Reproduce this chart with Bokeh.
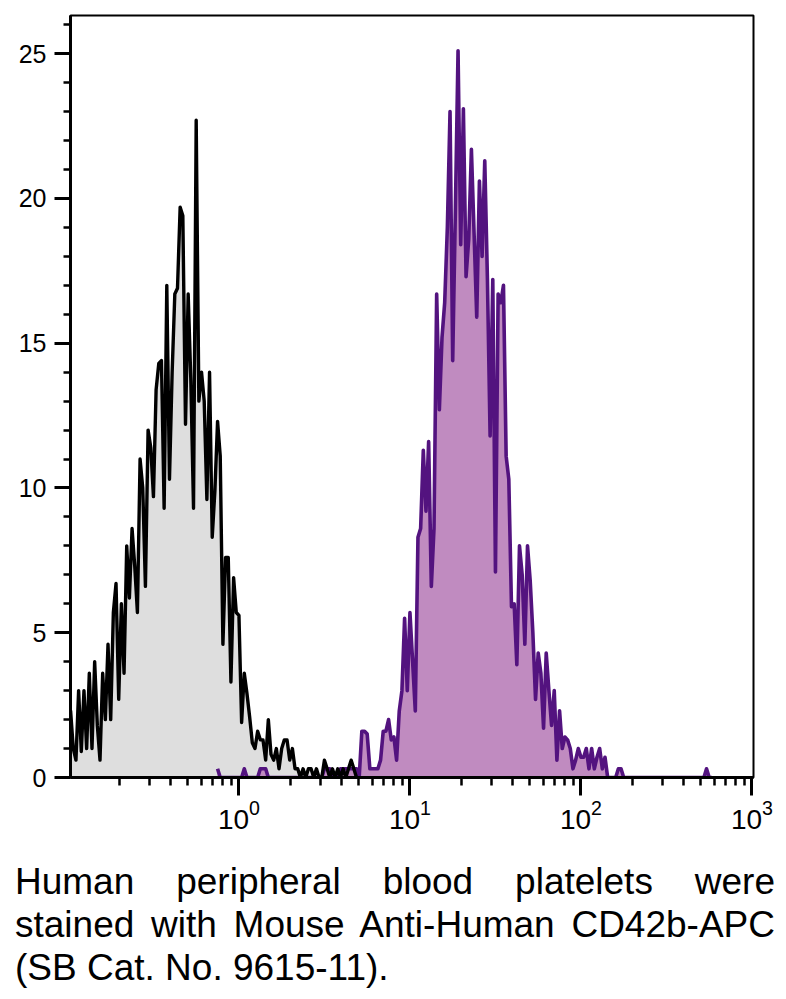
from bokeh.plotting import figure
from bokeh.models import Range1d, FixedTicker, Div, LogTickFormatter
from bokeh.layouts import column
from bokeh.embed import file_html
from bokeh.resources import INLINE

# ---- data -------------------------------------------------------------
channels_per_decade = 64
first_decade = -1

# isotype control (black), channel 0 upward
black_counts = [
    1.6, 2.3, 1.0, 0.6, 3.0, 0.9, 3.0, 1.0, 3.6, 1.0,
    4.0, 1.8, 0.6, 3.6, 2.0, 4.6, 2.0, 5.7, 6.7, 2.7,
    6.0, 3.6, 8.0, 6.2, 8.6, 7.3, 5.7, 11.0, 10.0, 6.6,
    12.0, 11.4, 9.7, 13.4, 14.3, 14.4, 9.3, 17.0, 10.3, 14.0,
    16.7, 16.9, 19.7, 19.4, 12.2, 16.7, 13.7, 9.3, 22.7, 13.0,
    14.0, 13.0, 9.6, 14.0, 8.3, 9.9, 12.3, 11.1, 4.6, 7.6,
    7.6, 3.3, 6.9, 5.7, 5.6, 1.9, 3.6, 2.9, 2.1, 1.2,
    1.0, 1.6, 1.3, 1.3, 0.6, 2.0, 0.8, 0.6, 1.0, 0.3,
    1.0, 1.3, 1.3, 0.6, 1.0, 0.3, 0.3, 0.0, 0.3, 0.0,
    0.3, 0.3, 0.0, 0.3, 0.0, 0.0, 0.6, 0.3, 0.0, 0.3,
    0.0, 0.3, 0.0, 0.3, 0.0, 0.3, 0.6, 0.3, 0.0,
]

# CD42b-APC stained (purple), starting at channel 56
purple_start = 56
purple_counts = [
    0.3, 0, 0, 0, 0, 0, 0, 0, 0, 0,
    0.3, 0, 0, 0, 0, 0, 0.3, 0.3, 0.3, 0,
    0, 0, 0, 0, 0, 0, 0, 0, 0, 0,
    0, 0, 0, 0, 0, 0, 0, 0, 0, 0,
    0.3, 0.3, 0.3, 0, 0, 0, 0.3, 0.3, 0.3, 0.3,
    0.3, 0.3, 0.3, 0, 1.6, 1.6, 1.5, 0.3, 0.3, 0.3,
    0.3, 0.6, 1.6, 1.6, 2.0, 1.3, 1.4, 0.6, 2.3, 3.0,
    5.5, 3.0, 5.7, 4.0, 2.3, 8.3, 8.6, 11.3, 9.2, 11.6,
    6.6, 8.6, 16.7, 12.7, 15.2, 16.4, 19.0, 23.0, 14.4, 19.6,
    25.1, 18.4, 23.1, 17.3, 18.6, 21.7, 18.8, 15.9, 20.6, 18.0,
    21.3, 17.2, 11.8, 17.2, 7.1, 16.7, 16.4, 17.0, 11.1, 10.3,
    5.9, 6.0, 3.9, 8.0, 7.0, 4.6, 8.0, 6.8, 5.0, 2.7,
    4.3, 3.6, 1.7, 4.3, 3.0, 1.8, 3.0, 0.6, 2.3, 1.0,
    1.4, 1.3, 1.0, 0.3, 0.6, 1.0, 0.7, 0.7, 1.0, 0.3,
    1.0, 0.3, 0.7, 1.0, 0.3, 0.7, 0, 0, 0, 0,
    0.3, 0.3, 0, 0, 0, 0, 0, 0, 0, 0,
    0, 0, 0, 0, 0, 0, 0, 0, 0, 0,
    0, 0, 0, 0, 0, 0, 0, 0, 0, 0,
    0, 0, 0, 0.3, 0, 0,
]

x_major = [1, 10, 100, 1000]
y_major = [0, 5, 10, 15, 20, 25]
y_minor = list(range(0, 27))
caption = ("Human peripheral blood platelets were stained with Mouse "
           "Anti-Human CD42b-APC (SB Cat. No. 9615-11).")


def chan_x(i):
    return 10 ** (first_decade + i / channels_per_decade)


black_x = [chan_x(i) for i in range(len(black_counts))]
purple_x = [chan_x(purple_start + j) for j in range(len(purple_counts))]
x_minor = [m * 10 ** k for k in range(-1, 3) for m in range(2, 10)]

FONT = "Liberation Sans"

# ---- figure -----------------------------------------------------------
p = figure(width=778, height=856, x_axis_type="log",
           x_range=Range1d(10 ** -0.985, 10 ** 3.009),
           y_range=Range1d(0, 26.32),
           output_backend="svg", toolbar_location=None,
           min_border_left=70, min_border_right=25,
           min_border_top=15, min_border_bottom=79)
p.xgrid.visible = False
p.ygrid.visible = False
p.background_fill_color = "white"
p.border_fill_color = "white"
p.outline_line_color = "black"
p.outline_line_width = 2

p.varea(x=black_x, y1=0, y2=black_counts, fill_color="#dedede")
p.varea(x=purple_x, y1=0, y2=purple_counts, fill_color="#c08bc0")
p.line(x=purple_x, y=purple_counts, line_color="#53137f", line_width=3.6,
       line_join="round")
p.line(x=black_x, y=black_counts, line_color="black", line_width=3.4,
       line_join="round")

# y axis
ya = p.yaxis[0]
ya.ticker = FixedTicker(ticks=y_major, minor_ticks=y_minor)
ya.axis_line_width = 3
ya.major_tick_line_width = 3
ya.minor_tick_line_width = 2.5
ya.major_tick_out = 16
ya.major_tick_in = 0
ya.minor_tick_out = 7
ya.minor_tick_in = 0
ya.major_label_standoff = 8
ya.major_label_text_font = FONT
ya.major_label_text_font_size = "25px"
ya.major_label_text_color = "black"

# x axis
xa = p.xaxis[0]
xa.ticker = FixedTicker(ticks=x_major, minor_ticks=x_minor)
xa.formatter = LogTickFormatter()
xa.axis_line_width = 3
xa.major_tick_line_width = 3
xa.minor_tick_line_width = 2.5
xa.major_tick_out = 18
xa.major_tick_in = 0
xa.minor_tick_out = 8
xa.minor_tick_in = 0
xa.major_label_standoff = 4
xa.major_label_text_font = FONT
xa.major_label_text_font_size = "28px"
xa.major_label_text_color = "black"

div = Div(text=('<div style="width:760px;margin-left:15px;margin-top:4px;'
                'font-family:\'Liberation Sans\';font-size:37px;'
                'line-height:43px;text-align:justify;color:#000;">'
                + caption + '</div>'),
          width=778, height=135, margin=(0, 0, 0, 0))

layout = column(p, div, spacing=0)
open("out.html", "w").write(file_html(layout, INLINE))
